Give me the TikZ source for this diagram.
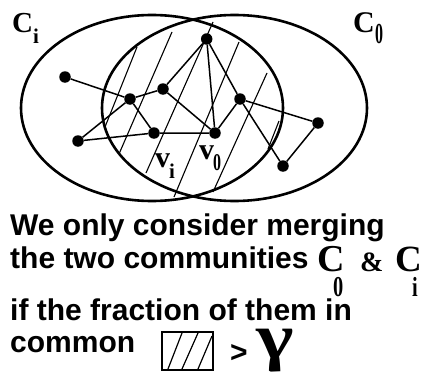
\documentclass[tikz,border=0pt]{standalone}
\usepackage{fontspec}
\setmainfont{Liberation Sans}
\newfontfamily\tms{Liberation Serif}
\begin{document}
\begin{tikzpicture}[x=1pt,y=-1pt,
  comm/.style={line width=2.6pt},
  edge/.style={line width=1.5pt},
  hatch/.style={line width=1.1pt},
  vert/.style={circle,fill=black,inner sep=0pt,minimum size=11.5pt},
  lab/.style={inner sep=0pt,anchor=base west,font=\tms\bfseries},
  txt/.style={inner sep=0pt,anchor=base west,font=\fontsize{30}{33}\selectfont\bfseries}]
\useasboundingbox (0,0) rectangle (421,372);
% communities
\draw[comm] (152,108) ellipse [x radius=131, y radius=93];
\draw[comm] (234.5,108) ellipse [x radius=132.5, y radius=93];
% hatching of the common part
\draw[hatch] (137,47) -- (105,127);
\draw[hatch] (172,32) -- (119,154);
\draw[hatch] (213,22) -- (146,173);
\draw[hatch] (239,42) -- (174,197);
\draw[hatch] (267,73) -- (213,192);
\draw[hatch] (279,121) -- (268,149);
% vertices
\node[vert] (a) at (206.7,39) {};
\node[vert] (b) at (65,77) {};
\node[vert] (c) at (130,99) {};
\node[vert] (d) at (163,89) {};
\node[vert] (e) at (240,99) {};
\node[vert] (f) at (318,123) {};
\node[vert] (g) at (78,141) {};
\node[vert] (h) at (154,133) {};
\node[vert] (i) at (215,133) {};
\node[vert] (j) at (283,166) {};
\draw[edge] (b)--(c) (c)--(d) (d)--(a) (c)--(h) (c)--(g) (g)--(h) (h)--(i)
  (d)--(i) (a)--(i) (a)--(e) (e)--(i) (e)--(f) (e)--(j) (f)--(j);
% labels in the diagram
\node[lab,font=\tms\bfseries\fontsize{29}{29}\selectfont] (ci) at (12,32) {C};
\node[lab,font=\tms\bfseries\fontsize{21}{21}\selectfont] (cis) at (33,43) {i};
\node[lab,font=\tms\bfseries\fontsize{30}{30}\selectfont] (c0) at (353,32) {C};
\node[lab,font=\tms\bfseries\fontsize{20}{20}\selectfont] (c0s) at (375,43) {\scalebox{0.8}[1.45]{0}};
\node[lab,font=\tms\bfseries\fontsize{30}{30}\selectfont] (vi) at (155,167) {v};
\node[lab,font=\tms\bfseries\fontsize{21}{21}\selectfont] (vis) at (169,178) {i};
\node[lab,font=\tms\bfseries\fontsize{30}{30}\selectfont] (v0) at (199,159) {v};
\node[lab,font=\tms\bfseries\fontsize{20}{20}\selectfont] (v0s) at (213,170) {\scalebox{0.8}[1.2]{0}};
% text
\node[txt] (t1) at (10,235) {We only consider merging};
\node[txt] (t2) at (10,268) {the two communities};
\node[lab,font=\tms\bfseries\fontsize{38}{38}\selectfont,text depth=0pt] (tc0) at (317,271) {C};
\node[lab,font=\tms\bfseries\fontsize{24}{24}\selectfont,text height=18pt,text depth=0pt] (tc0s) at (333,296) {\scalebox{0.85}[1.2]{0}};
\node[lab,font=\tms\bfseries\fontsize{28}{28}\selectfont,text depth=0pt] (amp) at (360,271) {\&};
\node[lab,font=\tms\bfseries\fontsize{37}{37}\selectfont,text depth=0pt] (tci) at (395,271) {C};
\node[lab,font=\tms\bfseries\fontsize{24}{24}\selectfont,text height=18pt,text depth=0pt] (tcis) at (412,296) {\scalebox{0.85}[1.15]{i}};
\node[txt,text height=22pt,text depth=0pt] (t3) at (10,320) {if the fraction of them in};
\node[txt] (t4) at (10,352) {common};
\node[draw,line width=1.5pt,minimum width=51pt,minimum height=38pt,inner sep=0pt] (hb) at (187.5,351) {};
\draw[line width=1.2pt] (168,369) -- (182,333) (182,369) -- (198,333) (198,369) -- (212,336);
\node[txt] (gt) at (230,362) {>};
\node[lab,font=\tms\bfseries\fontsize{64}{64}\selectfont,text height=30pt,text depth=14pt] (gam) at (256,358) {\scalebox{1.25}[1]{γ}};
\end{tikzpicture}
\end{document}
